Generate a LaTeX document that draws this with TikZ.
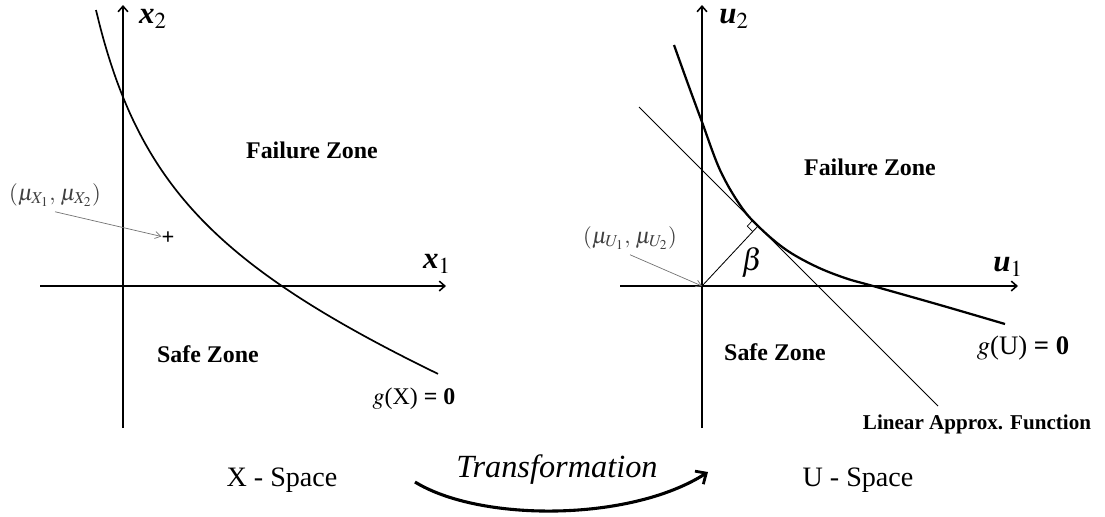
\documentclass[tikz,border=0pt]{standalone}
\usepackage{mathptmx}
\usepackage[no-math]{fontspec}
\setmainfont{Liberation Serif}
\usetikzlibrary{arrows.meta,calc}

\tikzset{
  axis/.style={line width=1.3pt, -{Straight Barb[length=4pt,width=7pt,line width=1.1pt]}},
  limit/.style={line width=1.2pt},
  zone/.style={font=\fontsize{17}{20}\selectfont\bfseries},
  space/.style={font=\fontsize{20}{24}\selectfont},
  axislabel/.style={font=\fontsize{22}{24}\selectfont, inner sep=0pt},
  pointer/.style={black!55, line width=0.5pt, -{Straight Barb[length=4pt,width=5pt]}},
  meanlabel/.style={text=black!75, font=\fontsize{16}{18}\selectfont},
  thinline/.style={line width=0.6pt},
}

\begin{document}
\begin{tikzpicture}[x=0.025cm, y=-0.025cm]
    \useasboundingbox (0,0) rectangle (1105,516);

    % X - Space
    \coordinate (O1) at (123,286);
    \draw[axis] (40,286) -- (446,286);
    \draw[axis] (123,428) -- (123,5);
    \node[axislabel] (x1) at (437,264) {\textbf{\textit{x}}$_1$};
    \node[axislabel] (x2) at (153,19) {\textbf{\textit{x}}$_2$};

    \draw[limit] plot[domain=96:438, samples=90, smooth]
        (\x, {270.7 + 0.358*\x - 224.23/((\x - 20)/100)});

    \node[zone] (failX) at (312,150) {Failure Zone};
    \node[zone] (safeX) at (208,354) {Safe Zone};
    \node[font=\fontsize{17}{20}\selectfont] (gX) at (414,399) {$g$(X) \textbf{= 0}};

    \node[font=\fontsize{16}{16}\selectfont\bfseries, inner sep=0pt] (meanX) at (168,238) {+};
    \node[meanlabel] (muX) at (55,195) {$(\mu_{X_1},\,\mu_{X_2})$};
    \draw[pointer] (muX.south) -- (meanX);

    \node[space] (spaceX) at (282,480) {X - Space};

    % Transformation
    \coordinate (tfrom) at (415,482);
    \coordinate (tto) at (708,472);
    \draw[line width=2.2pt, -{Straight Barb[length=6pt,width=11pt,line width=2pt]}]
        (tfrom) .. controls (480,522) and (630,522) .. (tto);
    \node[font=\fontsize{23}{26}\selectfont\itshape] (trans) at (557,470) {Transformation};

    % U - Space
    \coordinate (O2) at (702,286);
    \draw[axis] (620,286) -- (1018,286);
    \draw[axis] (702,428) -- (702,5);
    \node[axislabel] (u1) at (1008,267) {\textbf{\textit{u}}$_1$};
    \node[axislabel] (u2) at (734,19) {\textbf{\textit{u}}$_2$};

    \coordinate (L1) at (639,107);
    \coordinate (L2) at (938,406);
    \coordinate (T) at (758,226);
    \draw[thinline] (L1) -- (L2);
    \draw[thinline] (O2) -- (T);
    \coordinate (A) at ($(T)!5.5pt!(L1)$);
    \coordinate (C) at ($(T)!5.5pt!(O2)$);
    \draw[line width=0.5pt] (A) -- ($(A)+(C)-(T)$) -- (C);

    \draw[line width=1.6pt] plot[smooth, tension=0.6] coordinates {
        (674,45) (688,84) (702,122) (720,170) (740,205) (758,226)
        (785,249) (815,266) (845,278) (873,286) (940,305) (1005,324)};

    \node[font=\fontsize{22}{24}\selectfont] (beta) at (752,262) {$\beta$};
    \node[zone] (failU) at (870,167) {Failure Zone};
    \node[zone] (safeU) at (775,352) {Safe Zone};
    \node[font=\fontsize{19}{22}\selectfont] (gU) at (1023,348) {$g$(U) \textbf{= 0}};
    \node[font=\fontsize{15}{18}\selectfont\bfseries] (linapprox) at (977,424) {Linear Approx. Function};

    \node[meanlabel] (muU) at (630,238) {$(\mu_{U_1},\,\mu_{U_2})$};
    \draw[pointer] (muU.south) -- (O2);

    \node[space] (spaceU) at (858,480) {U - Space};
\end{tikzpicture}
\end{document}
